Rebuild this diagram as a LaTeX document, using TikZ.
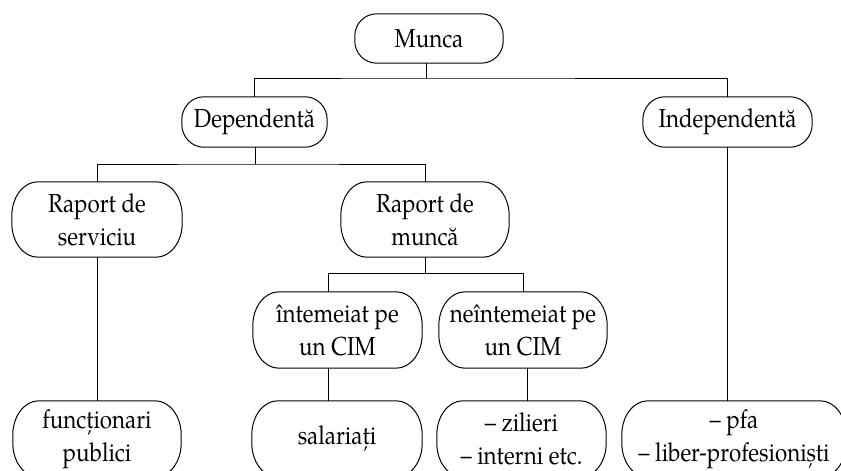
\documentclass[tikz,border=0pt]{standalone}
\usepackage{fontspec}
\setmainfont{TeX Gyre Pagella}[FakeStretch=0.86]
\newcommand\pillbox[3]{%
  \draw[outline] ([xshift=#2]#1.north west) -- ([xshift=-#2]#1.north east)
    arc[start angle=90,end angle=0,x radius=#2,y radius=#3]
    -- ([yshift=#3]#1.south east)
    arc[start angle=0,end angle=-90,x radius=#2,y radius=#3]
    -- ([xshift=#2]#1.south west)
    arc[start angle=270,end angle=180,x radius=#2,y radius=#3]
    -- ([yshift=-#3]#1.north west)
    arc[start angle=180,end angle=90,x radius=#2,y radius=#3] -- cycle;}
\begin{document}
\begin{tikzpicture}[x=1pt,y=-1pt,
  box/.style={align=center, inner sep=0pt, font=\fontsize{26}{33}\selectfont},
  short/.style={box, minimum height=50pt},
  tall/.style={box, minimum height=76pt},
  outline/.style={line width=1pt},
  conn/.style={line width=1pt}]
\useasboundingbox (0,0) rectangle (841,471);
\clip (0,0) rectangle (841,471);
\node[short, minimum width=148pt, minimum height=49pt] (munca) at (429,38.5) {Munca};
\node[short, minimum width=145pt] (dep) at (254.5,122) {Dependentă};
\node[short, minimum width=169pt] (ind) at (727.5,122) {Independentă};
\node[tall, minimum width=170pt, minimum height=75pt] (rs) at (97,219.5) {Raport de\\serviciu};
\node[tall, minimum width=168pt, minimum height=75pt] (rm) at (425,219.5) {Raport de\\muncă};
\node[tall, minimum width=169pt] (cim1) at (337.5,330) {întemeiat pe\\un CIM};
\node[tall, minimum width=168pt] (cim2) at (523,330) {neîntemeiat pe\\un CIM};
\node[tall, minimum width=168pt] (func) at (97,439) {funcționari\\publici};
\node[tall, minimum width=170pt] (sal) at (337,439) {salariați};
\node[tall, minimum width=169pt] (zil) at (521.5,439) {– zilieri\\– interni etc.};
\node[tall, minimum width=224pt] (pfa) at (734,439) {– pfa\\– liber-profesioniști};
\pillbox{munca}{22pt}{22pt}
\pillbox{dep}{22pt}{23pt}
\pillbox{ind}{22pt}{23pt}
\foreach \n in {rs,rm,cim1,cim2,func,sal,zil,pfa} {\pillbox{\n}{26pt}{34pt}}
\coordinate (b1) at (426,78);
\coordinate (b2) at (255,164);
\coordinate (b3l) at (328,273);
\coordinate (b3r) at (523,273);
\coordinate (b4) at (527,380);
\draw[conn] (munca.south -| b1) -- (b1);
\draw[conn] (dep.north) |- (b1) -| (ind.north);
\draw[conn] (dep.south -| b2) -- (b2);
\draw[conn] (rs.north) |- (b2) -| (rm.north);
\draw[conn] (rm.south) -- (rm.south |- b3l);
\draw[conn] (cim1.north -| b3l) -- (b3l) -- (b3r) -- (cim2.north -| b3r);
\draw[conn] (cim1.south -| b3l) -- (sal.north -| b3l);
\draw[conn] (cim2.south -| b4) -- (zil.north -| b4);
\draw[conn] (rs.south) -- (func.north);
\draw[conn] (ind.south) -- (ind.south |- pfa.north);
\end{tikzpicture}
\end{document}
